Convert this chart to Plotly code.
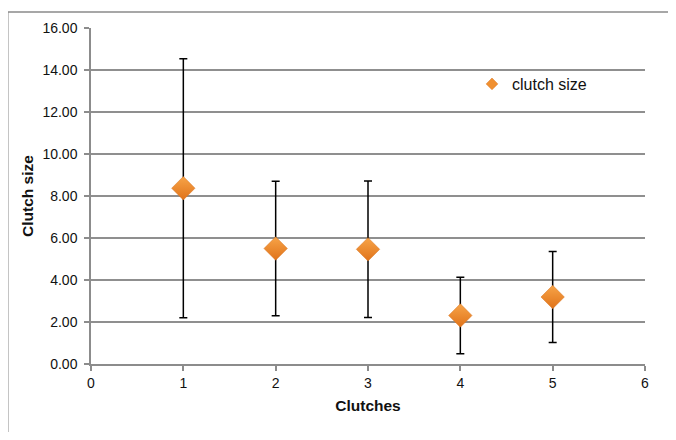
import plotly.graph_objects as go

clutches = [1, 2, 3, 4, 5]
clutch_size = [8.37, 5.50, 5.46, 2.31, 3.19]
error = [6.17, 3.20, 3.25, 1.82, 2.17]
series_name = "clutch size"
x_title = "Clutches"
y_title = "Clutch size"

# page has an 8px body margin; figure is placed at (8, 8) in the 676x440 window
OFF = 8
W, H = 676 - 2 * OFF, 440 - 2 * OFF
L, R, T, B = 91 - OFF, 31 - OFF, 28 - OFF, 76 - OFF
FONT = "Liberation Sans, Arial, sans-serif"

fig = go.Figure()
fig.add_trace(go.Scatter(
    x=clutches, y=clutch_size, mode="markers", showlegend=False,
    error_y=dict(type="data", array=error, visible=True, color="black",
                 thickness=1.5, width=4),
    marker=dict(symbol="diamond", size=18, color="#F7A448",
                gradient=dict(type="vertical", color="#E0731A"),
                line=dict(color="#D8731E", width=0.5)),
))
fig.add_trace(go.Scatter(
    x=[None], y=[None], mode="markers", name=series_name,
    marker=dict(symbol="diamond", size=9, color="#F09030",
                line=dict(color="#D8731E", width=0.5)),
))

pw = W - L - R
ph = H - T - B
# outer chart frame (left and top edges)
fx = (7 - OFF + 0.75 - L) / pw
fy = (H - B - (12 - OFF)) / ph
fig.add_shape(type="line", xref="paper", yref="paper",
              x0=fx, x1=(W - L) / pw, y0=fy, y1=fy,
              line=dict(color="#8a8a8a", width=1.5))
fig.add_shape(type="line", xref="paper", yref="paper",
              x0=fx, x1=fx, y0=fy, y1=(H - B - (H + 20)) / ph,
              line=dict(color="#8a8a8a", width=1.5))

axis_common = dict(showline=True, linecolor="#8c8c8c", linewidth=1.5,
                   ticks="outside", ticklen=5, tickcolor="#8c8c8c", tickwidth=1.5,
                   zeroline=False,
                   tickfont=dict(family=FONT, size=14, color="#111111"))

fig.update_xaxes(range=[0, 6], dtick=1, showgrid=False,
                 title=dict(text=x_title, standoff=11,
                            font=dict(family=FONT, size=15.5, color="#111111",
                                      weight="bold")),
                 **axis_common)
fig.update_yaxes(range=[0, 16], dtick=2, tickformat=".2f", showgrid=True,
                 gridcolor="#8f8f8f", gridwidth=1.5, ticklabelstandoff=4,
                 title=dict(text=y_title, standoff=5,
                            font=dict(family=FONT, size=15.5, color="#111111",
                                      weight="bold")),
                 **axis_common)

fig.update_layout(
    width=W, height=H,
    margin=dict(l=L, r=R, t=T, b=B, pad=0, autoexpand=False),
    plot_bgcolor="white", paper_bgcolor="white",
    showlegend=True,
    legend=dict(x=(472 - OFF - L) / pw, y=(H - B - (67 - OFF)) / ph,
                xanchor="left", yanchor="top",
                bgcolor="rgba(0,0,0,0)",
                font=dict(family=FONT, size=16, color="#111111"),
                itemwidth=30, tracegroupgap=0),
)

fig.write_html("out.html", config={"displayModeBar": False})
